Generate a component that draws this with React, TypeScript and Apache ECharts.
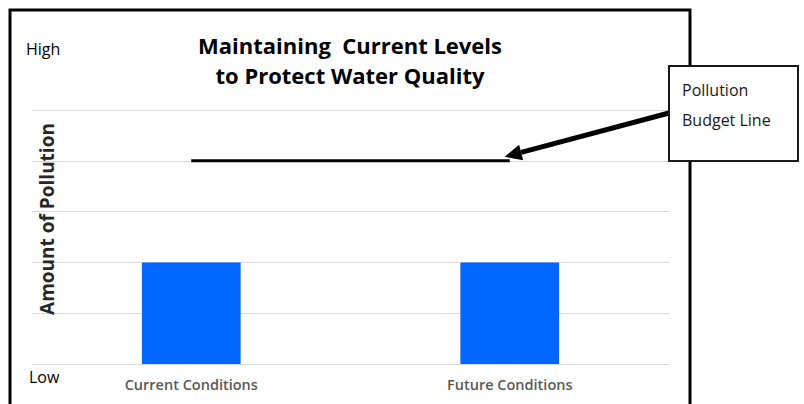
import React, { useEffect, useRef } from "react";
import * as echarts from "echarts";

const categories = ["Current Conditions", "Future Conditions"];
const pollutionLevels = [2, 2];
const budgetLine = [4, 4];
const titleLines = ["Maintaining  Current Levels", "to Protect Water Quality"];
const yAxisTitle = "Amount of Pollution";
const highLabel = "High";
const lowLabel = "Low";
const calloutLines = ["Pollution", "Budget Line"];

const FONT = "'Open Sans', Lato, sans-serif";

export default function App() {
  const ref = useRef<HTMLDivElement>(null);
  useEffect(() => {
    if (!ref.current) return;
    const chart = echarts.init(ref.current, null, { renderer: "svg" });
    chart.setOption({
      animation: false,
      backgroundColor: "#ffffff",
      grid: { left: 32, right: 135, top: 110, bottom: 40, containLabel: false },
      xAxis: {
        type: "category",
        data: categories,
        axisLine: { show: false },
        axisTick: { show: false },
        axisLabel: {
          color: "#595959",
          fontFamily: FONT,
          fontSize: 14.5,
          fontWeight: 600,
          margin: 13,
        },
      },
      yAxis: {
        type: "value",
        min: 0,
        max: 5,
        interval: 1,
        axisLabel: { show: false },
        axisLine: { show: false },
        axisTick: { show: false },
        splitLine: { lineStyle: { color: "#d9d9d9", width: 1 } },
      },
      series: [
        {
          type: "bar",
          data: pollutionLevels,
          barWidth: "31%",
          itemStyle: { color: "#0066ff" },
        },
        {
          type: "line",
          data: budgetLine,
          symbol: "none",
          lineStyle: { color: "#000000", width: 3 },
          z: 5,
        },
      ],
    });

    const tip = chart.convertToPixel({ seriesIndex: 1 }, [1, budgetLine[1]]) as number[];
    const tx = tip[0] - 5;
    const ty = tip[1] - 4;
    const sx = 669;
    const sy = 113;
    const ang = Math.atan2(sy - ty, sx - tx);
    const headLen = 17;
    const headHalf = 8;
    const bx = tx + Math.cos(ang) * headLen;
    const by = ty + Math.sin(ang) * headLen;
    const px = -Math.sin(ang) * headHalf;
    const py = Math.cos(ang) * headHalf;

    const txt = (text: string, x: number, y: number, size: number, extra: any = {}) => ({
      type: "text",
      x,
      y,
      z: extra.z ?? 12,
      rotation: extra.rotation ?? 0,
      style: {
        text,
        fontFamily: FONT,
        fontSize: size,
        fontWeight: extra.weight ?? "normal",
        fill: extra.fill ?? "#000000",
        align: extra.align ?? "left",
        verticalAlign: "middle",
      },
    });

    chart.setOption({
      graphic: [
        {
          type: "rect",
          shape: { x: 10, y: 10, width: 680, height: 420 },
          style: { fill: "none", stroke: "#000000", lineWidth: 3 },
          z: 1,
        },
        txt(titleLines[0], 350, 45, 22, { weight: "bold", align: "center" }),
        txt(titleLines[1], 350, 75, 22, { weight: "bold", align: "center" }),
        txt(highLabel, 26, 49, 16, { weight: 500 }),
        txt(lowLabel, 29, 377, 16, { weight: 500 }),
        txt(yAxisTitle, 47, 219, 19, {
          weight: "bold",
          align: "center",
          rotation: Math.PI / 2,
          fill: "#262626",
        }),
        {
          type: "line",
          shape: { x1: sx, y1: sy, x2: bx, y2: by },
          style: { stroke: "#000000", lineWidth: 5 },
          z: 10,
        },
        {
          type: "polygon",
          shape: {
            points: [
              [tx, ty],
              [bx + px, by + py],
              [bx - px, by - py],
            ],
          },
          style: { fill: "#000000" },
          z: 10,
        },
        {
          type: "rect",
          shape: { x: 669, y: 66, width: 129, height: 95 },
          style: { fill: "#ffffff", stroke: "#1a1a1a", lineWidth: 2 },
          z: 11,
        },
        txt(calloutLines[0], 682, 90, 16, { fill: "#1a1a1a", weight: 500 }),
        txt(calloutLines[1], 682, 120, 16, { fill: "#1a1a1a", weight: 500 }),
      ],
    });
    return () => chart.dispose();
  }, []);
  return (
    <div
      ref={ref}
      style={{ position: "fixed", left: 0, top: 0, width: 804, height: 404 }}
    />
  );
}
